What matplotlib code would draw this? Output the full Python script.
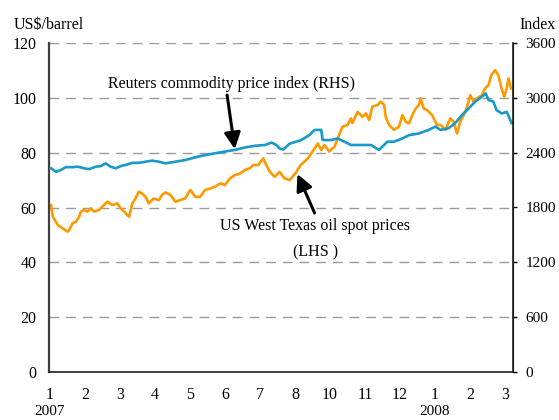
import matplotlib
matplotlib.use("Agg")
import matplotlib.pyplot as plt

plt.rcParams['font.family'] = ['Liberation Serif', 'DejaVu Serif']

# x positions in months since start of Jan 2007 (0 = Jan 2007)
oil_t = [0.03, 0.08, 0.22, 0.36, 0.50, 0.55, 0.64, 0.74, 0.83, 0.88, 0.97, 1.07, 1.16, 1.26,
         1.40, 1.54, 1.64, 1.78, 1.92, 2.02, 2.16, 2.26, 2.35, 2.44, 2.54, 2.63, 2.73, 2.82,
         2.96, 3.11, 3.20, 3.30, 3.44, 3.58, 3.72, 3.86, 4.01, 4.15, 4.29, 4.43, 4.57, 4.72,
         4.86, 5.00, 5.14, 5.28, 5.43, 5.57, 5.71, 5.80, 5.95, 6.09, 6.18, 6.28, 6.42, 6.56,
         6.70, 6.85, 7.04, 7.16, 7.37, 7.65, 7.75, 7.84, 7.98, 8.13, 8.22, 8.36, 8.50, 8.60,
         8.64, 8.79, 8.93, 9.03, 9.12, 9.21, 9.36, 9.45, 9.55, 9.59, 9.69, 9.83, 9.97, 10.07,
         10.16, 10.26, 10.35, 10.45, 10.54, 10.59, 10.68, 10.78, 10.92, 11.01, 11.06, 11.16,
         11.30, 11.44, 11.53, 11.63, 11.72, 11.87, 11.96, 12.01, 12.10, 12.20, 12.34, 12.43,
         12.53, 12.61, 12.72, 12.81, 12.89, 12.98, 13.05, 13.10, 13.17]
oil_price = [60.9, 56.6, 53.6, 52.4, 51.2, 51.8, 54.2, 54.8, 56.6, 58.5, 59.1, 58.5, 59.7, 58.5,
             59.1, 60.9, 62.1, 60.9, 61.5, 59.7, 57.9, 56.6, 61.5, 63.3, 65.8, 65.1, 63.9, 61.5,
             63.3, 62.7, 64.6, 65.5, 64.6, 62.1, 62.7, 63.3, 66.4, 63.9, 63.9, 66.4, 66.9, 67.6,
             68.8, 68.2, 70.6, 71.8, 72.4, 73.7, 74.3, 75.5, 75.5, 77.9, 75.5, 73.0, 71.2, 73.0,
             70.6, 70.0, 73.0, 75.5, 77.9, 83.3, 81.0, 82.8, 80.4, 82.2, 85.2, 89.5, 90.1, 92.5,
             90.8, 94.9, 93.1, 94.3, 91.9, 96.8, 97.4, 98.6, 97.4, 93.1, 90.1, 88.3, 89.5, 93.7,
             91.3, 90.7, 93.7, 96.1, 97.4, 99.8, 96.1, 95.5, 93.7, 91.3, 90.1, 90.1,
             88.3, 92.5, 91.3, 87.0, 91.3, 94.9, 98.6, 101.0, 98.6, 99.8, 101.0, 103.4,
             104.7, 108.3, 110.1, 108.3, 104.0, 100.4, 103.4, 107.1, 103.4]

crb_t = [0.03, 0.17, 0.31, 0.45, 0.64, 0.79, 0.97, 1.12, 1.31, 1.45, 1.59, 1.73, 1.88, 2.02,
         2.21, 2.35, 2.54, 2.73, 2.92, 3.11, 3.30, 3.58, 3.86, 4.15, 4.43, 4.72, 5.00, 5.28,
         5.57, 5.85, 6.14, 6.33, 6.47, 6.56, 6.66, 6.85, 7.18, 7.41, 7.56, 7.75, 7.79, 8.03,
         8.22, 8.41, 8.60, 8.88, 9.17, 9.40, 9.64, 9.83, 10.07, 10.26, 10.54, 10.82, 11.01,
         11.16, 11.39, 11.58, 11.77, 11.96, 12.15, 12.34, 12.45, 12.53, 12.67, 12.76, 12.91,
         13.05, 13.19]
crb_index = [2229, 2190, 2211, 2241, 2241, 2247, 2229, 2220, 2247, 2253, 2283, 2247, 2229, 2253,
             2271, 2289, 2289, 2301, 2313, 2301, 2283, 2301, 2319, 2349, 2373, 2394, 2412, 2430,
             2457, 2475, 2484, 2511, 2484, 2445, 2433, 2499, 2538, 2592, 2649, 2649, 2538, 2538,
             2556, 2520, 2484, 2484, 2484, 2430, 2520, 2520, 2556, 2592, 2610, 2649, 2685,
             2649, 2667, 2724, 2811, 2883, 2958, 3012, 3048, 2976, 2958, 2865, 2829,
             2847, 2724]

month_labels = ['1', '2', '3', '4', '5', '6', '7', '8', '10', '11', '12', '1', '2', '3']
year_labels = ['2007', '2008']
left_ticks = [0, 20, 40, 60, 80, 100, 120]
right_ticks = [0, 600, 1200, 1800, 2400, 3000, 3600]

FS = 11

fig = plt.figure(figsize=(5.59, 4.20), dpi=100)
ax = fig.add_axes([49/559, 1 - 372/420, (513 - 49)/559, (372 - 43)/420])
ax2 = ax.twinx()

oil_color = '#FF9900'
crb_color = '#1899C9'

ax.plot(oil_t, oil_price, color=oil_color, lw=1.9, solid_joinstyle='round')
ax2.plot(crb_t, crb_index, color=crb_color, lw=1.9, solid_joinstyle='round')

ax.set_xlim(-0.03, 13.23)
ax.set_ylim(0, 120)
ax2.set_ylim(0, 3600)

# grid lines (including top at 120)
for v in left_ticks[1:]:
    ax.axhline(v, color='#9a9a9a', lw=1.0, dashes=(7, 5), zorder=0.5)

ax.set_yticks(left_ticks)
ax.set_yticklabels([str(v) for v in left_ticks], fontsize=FS + 0.5)
ax2.set_yticks(right_ticks)
ax2.set_yticklabels([str(v) for v in right_ticks], fontsize=FS)
ax.tick_params(axis='y', length=0, pad=9)
ax2.tick_params(axis='y', length=3, direction='out', pad=6, width=1)

ax.set_xticks(range(len(month_labels)))
ax.set_xticklabels(month_labels, fontsize=FS + 0.5)
ax.tick_params(axis='x', length=0, pad=10.5)

for a in (ax, ax2):
    a.spines['top'].set_visible(False)
ax.spines['left'].set_color('#404040')
ax.spines['left'].set_linewidth(1.6)
ax.spines['bottom'].set_color('#202020')
ax.spines['bottom'].set_linewidth(1.2)
ax2.spines['right'].set_color('#202020')
ax2.spines['right'].set_linewidth(1.2)
ax2.spines['left'].set_visible(False)
ax2.spines['bottom'].set_visible(False)

# year labels under first and 12th month labels
ax.text(0, -0.121, year_labels[0], transform=ax.get_xaxis_transform(), ha='center', va='center', fontsize=FS)
ax.text(11, -0.121, year_labels[1], transform=ax.get_xaxis_transform(), ha='center', va='center', fontsize=FS)

fig.text(14/559, 1 - 25/420, 'US$/barrel', ha='left', va='center', fontsize=FS + 0.5)
fig.text(556/559, 1 - 25/420, 'Index', ha='right', va='center', fontsize=FS + 0.5)

arrow = dict(arrowstyle='-|>,head_length=0.7,head_width=0.35', lw=2.2, color='black',
             mutation_scale=14, shrinkA=0, shrinkB=0)
ax.annotate('', xy=(5.28, 81.3), xytext=(5.06, 101.0), arrowprops=arrow, zorder=5)
ax.text(1.65, 105.0, 'Reuters commodity price index (RHS)', ha='left', va='center', fontsize=FS + 0.5)

ax.annotate('', xy=(7.07, 72.2), xytext=(7.56, 58.0), arrowprops=arrow, zorder=5)
ax.text(7.56, 53.2, 'US West Texas oil spot prices', ha='center', va='center', fontsize=FS + 0.5)
ax.text(7.59, 43.8, '(LHS )', ha='center', va='center', fontsize=FS + 0.5)

fig.savefig('out.png', dpi=100)
